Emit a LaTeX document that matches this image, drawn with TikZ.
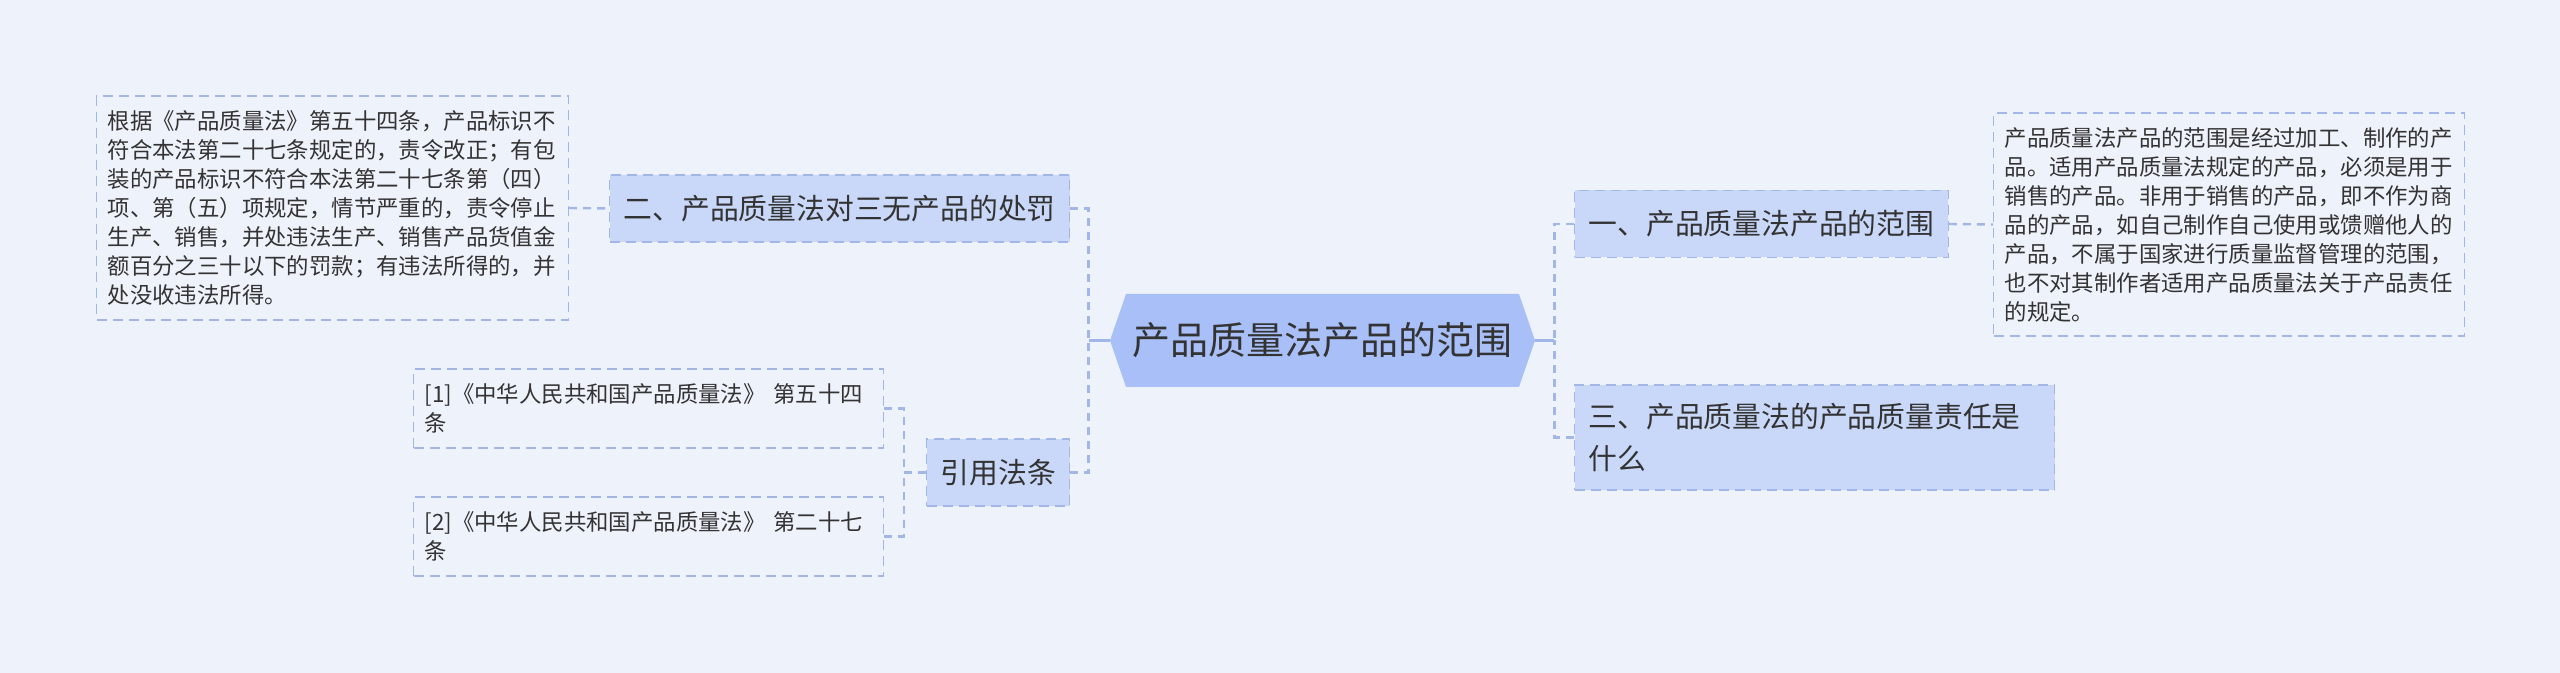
\documentclass[tikz,border=0pt]{standalone}
\usepackage{fontspec}
\setmainfont{Noto Sans CJK SC}
\definecolor{bgblue}{RGB}{238,242,251}
\definecolor{rootblue}{RGB}{168,192,247}
\definecolor{topicblue}{RGB}{201,216,249}
\definecolor{edgeblue}{RGB}{162,183,232}
\definecolor{inkgray}{RGB}{51,51,51}

\begin{document}
\begin{tikzpicture}[x=0.5pt,y=-0.5pt,
  topic/.style={fill=topicblue,draw=edgeblue,dash pattern=on 5pt off 3pt,
    line width=0.6pt,text=inkgray,font=\fontsize{14.4}{21}\selectfont,
    inner xsep=7pt,minimum height=33.5pt,anchor=west},
  memo/.style={draw=edgeblue,dash pattern=on 5pt off 3pt,line width=0.6pt,
    text=inkgray,font=\fontsize{11.2}{14.5}\selectfont,align=left,
    inner xsep=5.5pt,anchor=west},
  link/.style={draw=edgeblue,line width=1.2pt},
  bus/.style={link,dash pattern=on 4pt off 3pt}]
 \fill[bgblue] (0,0) rectangle (2560,673);
 \useasboundingbox (0,0) rectangle (2560,673);
 \fill[rootblue] (1110,340.5) -- (1126,294) -- (1519,294) -- (1535,340.5)
   -- (1519,387) -- (1126,387) -- cycle;
 \node[text=inkgray,font=\fontsize{19}{23}\selectfont,minimum width=212.5pt,
   minimum height=46.5pt] (root) at (1322.5,340.5) {产品质量法产品的范围};
 \node[topic] (secB) at (609,208.5) {二、产品质量法对三无产品的处罚};
 \node[topic] (cite) at (926,472.5) {引用法条};
 \node[topic] (secA) at (1574,224) {一、产品质量法产品的范围};
 \node[topic,text width=226pt,align=left,minimum height=52.5pt] (secC)
   at (1574,437.5) {三、产品质量法的产品质量责任是\\什么};
 \node[memo,text width=225pt,minimum height=112pt] (detA) at (96,208)
   {根据《产品质量法》第五十四条，产品标识不\\
    符合本法第二十七条规定的，责令改正；有包\\
    装的产品标识不符合本法第二十七条第（四）\\
    项、第（五）项规定，情节严重的，责令停止\\
    生产、销售，并处违法生产、销售产品货值金\\
    额百分之三十以下的罚款；有违法所得的，并\\
    处没收违法所得。};
 \node[memo,text width=224pt,minimum height=39.5pt] (refA) at (413,408.5)
   {[1]《中华人民共和国产品质量法》 第五十四\\条};
 \node[memo,text width=224pt,minimum height=39.5pt] (refB) at (413,536.5)
   {[2]《中华人民共和国产品质量法》 第二十七\\条};
 \node[memo,text width=224.5pt,minimum height=111.5pt] (detC) at (1993,224.5)
   {产品质量法产品的范围是经过加工、制作的产\\
    品。适用产品质量法规定的产品，必须是用于\\
    销售的产品。非用于销售的产品，即不作为商\\
    品的产品，如自己制作自己使用或馈赠他人的\\
    产品，不属于国家进行质量监督管理的范围，\\
    也不对其制作者适用产品质量法关于产品责任\\
    的规定。};
 \draw[link] (root.west) -- ++(-21,0) coordinate (lhub);
 \draw[bus] (secB.east) -| (lhub);
 \draw[bus] (cite.east) -| (lhub);
 \draw[link] (root.east) -- ++(19,0) coordinate (rhub);
 \draw[bus] (secA.west) -| (rhub);
 \draw[bus] (secC.west) -| (rhub);
 \draw[bus] (cite.west) -- ++(-22,0) coordinate (chub);
 \draw[bus] (refA.east) -| (chub);
 \draw[bus] (refB.east) -| (chub);
 \draw[bus] (detA.east) -- (secB.west);
 \draw[bus] (secA.east) -- (detC.west);
\end{tikzpicture}
\end{document}
